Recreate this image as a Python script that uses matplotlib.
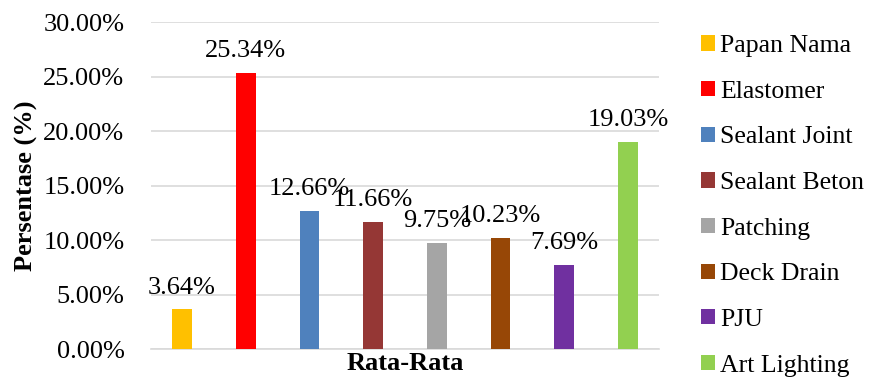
import matplotlib.pyplot as plt
import numpy as np

labels = ['Papan Nama', 'Elastomer', 'Sealant Joint', 'Sealant Beton',
          'Patching', 'Deck Drain', 'PJU', 'Art Lighting']
values = [3.64, 25.34, 12.66, 11.66, 9.75, 10.23, 7.69, 19.03]
colors = ['#FFC000', '#FF0000', '#4F81BD', '#953735',
          '#A5A5A5', '#974706', '#7030A0', '#92D050']
yticks = [0, 5, 10, 15, 20, 25, 30]

plt.rcParams['font.family'] = ['Liberation Serif', 'DejaVu Serif']
plt.rcParams['font.size'] = 19

fig = plt.figure(figsize=(8.72, 3.82), dpi=100)
ax = fig.add_axes([0.173, 0.086, 0.583, 0.856])

x = np.arange(len(values))
for i in range(len(values)):
    ax.bar(x[i], values[i], width=0.31, color=colors[i], label=labels[i], zorder=3)
    ax.text(x[i], values[i] + 1.0, '%.2f%%' % values[i], ha='center', va='bottom',
            fontsize=19, zorder=4)

ax.set_xlim(-0.49, 7.49)
ax.set_ylim(0, 30)
ax.set_yticks(yticks)
ax.set_yticklabels(['%.2f%%' % v for v in yticks])
ax.set_xticks([])
ax.yaxis.grid(True, color='#D9D9D9', linewidth=1.2, zorder=0)
ax.tick_params(axis='y', length=0, pad=19)
for s in ['top', 'right', 'left']:
    ax.spines[s].set_visible(False)
ax.spines['bottom'].set_color('#D9D9D9')
ax.spines['bottom'].set_linewidth(1.2)

ax.set_xlabel('Rata-Rata', fontweight='bold', fontsize=19, labelpad=2)
ax.set_ylabel('Persentase (%)', fontweight='bold', fontsize=19, labelpad=4)

ax.legend(loc='upper left', bbox_to_anchor=(0.804, 0.908),
          bbox_transform=fig.transFigure, frameon=False,
          borderpad=0, borderaxespad=0,
          handlelength=0.53, handleheight=0.53, handletextpad=0.2,
          labelspacing=0.92, fontsize=18.5)

fig.savefig('out.png', dpi=100)
